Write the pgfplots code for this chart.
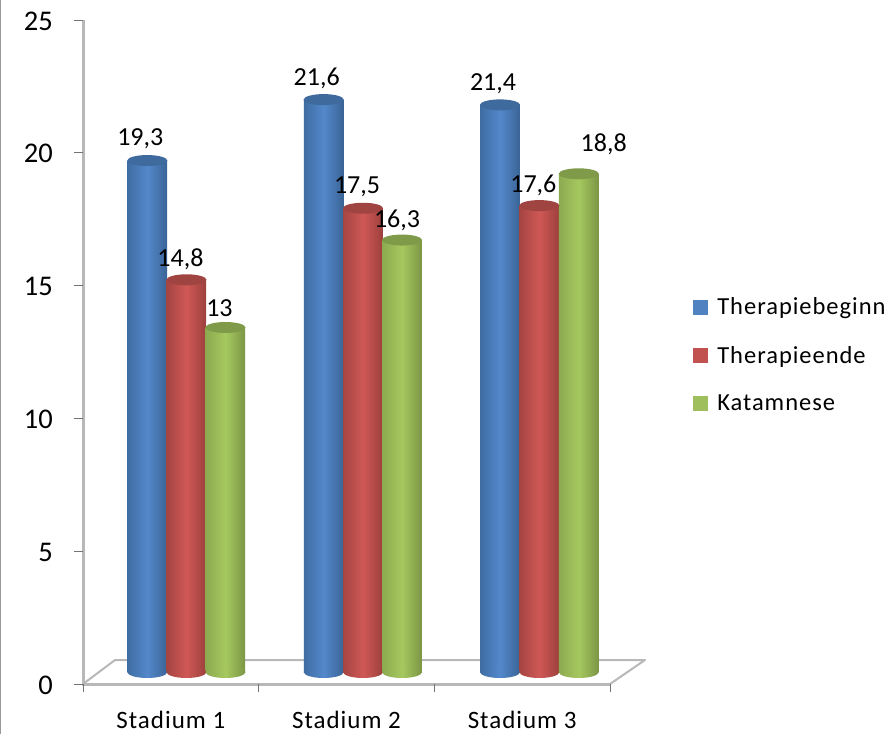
\documentclass[border=0pt]{standalone}
\usepackage{fontspec}
\setmainfont{Carlito}
\newfontfamily\spaced[LetterSpace=4]{Carlito}
\usepackage{pgfplots}
\usepackage{pgfplotstable}
\pgfplotsset{compat=1.18}

% Cylinder colours and side shadings
\definecolor{cbL}{HTML}{3F6DA3}\definecolor{cbM}{HTML}{5488CB}\definecolor{cbR}{HTML}{3A6496}
\definecolor{crL}{HTML}{A54542}\definecolor{crM}{HTML}{CF5855}\definecolor{crR}{HTML}{9C403D}
\definecolor{cgL}{HTML}{8CAA50}\definecolor{cgM}{HTML}{A6C85F}\definecolor{cgR}{HTML}{7B9645}
\definecolor{tb}{HTML}{3E6A9E}\definecolor{tr}{HTML}{A04441}\definecolor{tg}{HTML}{7F9B49}
\pgfdeclarehorizontalshading{cylblue}{100bp}{color(0bp)=(cbL);color(25bp)=(cbL);color(50bp)=(cbM);color(75bp)=(cbR);color(100bp)=(cbR)}
\pgfdeclarehorizontalshading{cylred}{100bp}{color(0bp)=(crL);color(25bp)=(crL);color(50bp)=(crM);color(75bp)=(crR);color(100bp)=(crR)}
\pgfdeclarehorizontalshading{cylgreen}{100bp}{color(0bp)=(cgL);color(25bp)=(cgL);color(50bp)=(cgM);color(75bp)=(cgR);color(100bp)=(cgR)}

% Cylinder caps and bases as plot marks
\newcommand{\ellipsepath}[1]{\pgfpathellipse{\pgfpointorigin}{\pgfqpoint{20pt}{0pt}}{\pgfqpoint{0pt}{#1}}}
\pgfdeclareplotmark{capb}{\pgfsetfillcolor{tb}\ellipsepath{5.5pt}\pgfusepathqfill}
\pgfdeclareplotmark{capr}{\pgfsetfillcolor{tr}\ellipsepath{5.5pt}\pgfusepathqfill}
\pgfdeclareplotmark{capg}{\pgfsetfillcolor{tg}\ellipsepath{5.5pt}\pgfusepathqfill}
\pgfdeclareplotmark{baseb}{\ellipsepath{6pt}\pgfshadepath{cylblue}{0}\pgfusepath{discard}}
\pgfdeclareplotmark{baser}{\ellipsepath{6pt}\pgfshadepath{cylred}{0}\pgfusepath{discard}}
\pgfdeclareplotmark{baseg}{\ellipsepath{6pt}\pgfshadepath{cylgreen}{0}\pgfusepath{discard}}

\pgfplotstableread{
x     y    dx  dy
0.866 19.3 -7  21.5
1.870 21.6 -7  21.6
2.874 21.4 -7  21
}\beginn
\pgfplotstableread{
x     y    dx  dy
1.089 14.8 -6  21
2.094 17.5 -6  21
3.098 17.6 -6  20.6
}\ende
\pgfplotstableread{
x     y    dx  dy
1.311 13.0 -6  19.5
2.316 16.3 -5  20
3.322 18.8 25  30
}\katamnese

\pgfplotsset{
  only row/.style={x filter/.code={\ifnum\coordindex=#1\relax\else\def\pgfmathresult{}\fi}},
  cyl/.style={
    ybar, bar width=39.5pt, bar shift=0pt, draw=none, shade, shading=#1, forget plot},
  lab/.style={only marks, forget plot,
    visualization depends on={\thisrow{dx} \as \dx},
    visualization depends on={\thisrow{dy} \as \dy},
    nodes near coords={\fontsize{26}{26}\selectfont\pgfmathprintnumber[fixed,precision=1,use comma,assume math mode=true]{\pgfplotspointmeta}},
    point meta=y,
    nodes near coords align={anchor=center},
    every node near coord/.append style={xshift=\dx pt, yshift=\dy pt, inner sep=0pt, text=black, anchor=center}},
}

\begin{document}
\begin{tikzpicture}[x=1pt,y=1pt]
\useasboundingbox (0,0) rectangle (896,734);
\fill[white] (0,0) rectangle (896,734);
% left page edge
\draw[color=black!40, line width=1.5pt] (0.5,0) -- (0.5,734);
% floor of the plot and the wall line
\draw[color=black!28, line width=2pt, line join=round] (83,50) -- (115,74) -- (645,74) -- (610,50);
\draw[color=black!28, line width=3pt] (83,714) -- (83,50) -- (610,50);

% value axis, category axis
\begin{axis}[
  at={(83pt,50pt)}, anchor=south west, scale only axis, width=527pt, height=664pt,
  xmin=0.5, xmax=3.5, ymin=0, ymax=25,
  axis x line=bottom, axis y line=left,
  axis line style={draw=none},
  clip=false,
  xtick={1,2,3}, xticklabels={Stadium 1,Stadium 2,Stadium 3},
  minor xtick={0.5,1.5,2.5,3.5},
  ytick={0,5,10,15,20,25},
  tick align=outside, major tick length=0pt,
  minor tick length=8pt,
  every minor tick/.style={color=black!55, line width=0.8pt},
  y tick style={color=black!55, line width=0.8pt},
  extra y ticks={0,5,10,15,20,25}, extra y tick labels={},
  extra y tick style={major tick length=9pt, tick align=outside},
  /pgf/number format/assume math mode=true,
  yticklabel style={font=\fontsize{28.5}{28.5}\selectfont, inner sep=0pt, anchor=east, xshift=-30pt, yshift=-1pt},
  xticklabel style={font=\spaced\fontsize{25}{25}\selectfont, inner sep=0pt, anchor=center, yshift=-36pt},
]
\end{axis}

% cylinders and legend
\begin{axis}[
  at={(83pt,50pt)}, anchor=south west, scale only axis, width=527pt, height=664pt,
  xmin=0.5, xmax=3.5, ymin=-0.4528, ymax=24.604,
  hide axis, clip=false,
  legend style={draw=none, fill=none, at={(1.157,0.5849)}, anchor=north west,
    font=\spaced\fontsize{24.5}{24.5}\selectfont, inner xsep=0pt, inner ysep=0pt,
    row sep=26pt},
  legend cell align=left,
  legend image code/.code={\fill[#1] (0pt,-7pt) rectangle (14pt,7pt);},
]
\addplot[only marks, mark=baseb, forget plot] table[x=x, y expr=0] {\beginn};
\pgfplotsinvokeforeach{0,1,2}{\addplot[cyl=cylblue, only row=#1] table[x=x,y=y] {\beginn};}
\addplot[mark=capb, lab] table[x=x,y=y] {\beginn};

\addplot[only marks, mark=baser, forget plot] table[x=x, y expr=0] {\ende};
\pgfplotsinvokeforeach{0,1,2}{\addplot[cyl=cylred, only row=#1] table[x=x,y=y] {\ende};}
\addplot[mark=capr, lab] table[x=x,y=y] {\ende};

\addplot[only marks, mark=baseg, forget plot] table[x=x, y expr=0] {\katamnese};
\pgfplotsinvokeforeach{0,1,2}{\addplot[cyl=cylgreen, only row=#1] table[x=x,y=y] {\katamnese};}
\addplot[mark=capg, lab] table[x=x,y=y] {\katamnese};

\addlegendimage{color=cbM!80!tb}\addlegendentry{\hspace*{8pt}Therapiebeginn}
\addlegendimage{color=crM!70!tr}\addlegendentry{\hspace*{8pt}Therapieende}
\addlegendimage{color=cgM!80!tg}\addlegendentry{\hspace*{8pt}Katamnese}
\end{axis}
\end{tikzpicture}
\end{document}
